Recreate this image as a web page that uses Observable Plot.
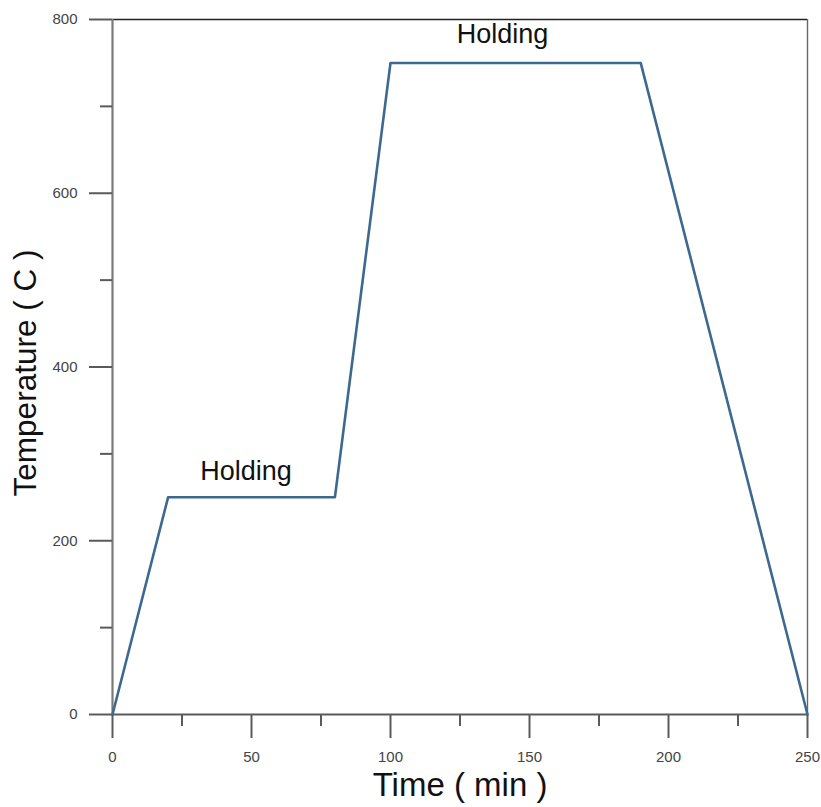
<!DOCTYPE html>
<html>
<head>
<meta charset="utf-8">
<script src="https://cdn.jsdelivr.net/npm/d3@7"></script>
<script src="https://cdn.jsdelivr.net/npm/@observablehq/plot@0.6"></script>
<style>
  html, body { margin: 0; padding: 0; background: #fff; }
  #chart svg { display: block; }
</style>
</head>
<body>
<div id="chart"></div>
<script>
// Data
const timeMin = [0, 20, 80, 100, 190, 250];
const tempC = [0, 250, 250, 750, 750, 0];

const xMajorTicks = [0, 50, 100, 150, 200, 250];
const xMinorTicks = [25, 75, 125, 175, 225];
const yMajorTicks = [0, 200, 400, 600, 800];
const yMinorTicks = [100, 300, 500, 700];

const labelText = ["Holding", "Holding"];
const labelX = [48, 140.3];
const labelY = [280, 783];

const xTitle = "Time ( min )";
const yTitle = "Temperature ( C )";

const profile = timeMin.map((t, i) => ({t, v: tempC[i]}));
const labels = labelText.map((s, i) => ({s, x: labelX[i], y: labelY[i]}));

const axisColor = "#5a5a5a";
const noLabel = () => "";

const chart = Plot.plot({
  width: 821,
  height: 807,
  marginLeft: 112,
  marginRight: 14,
  marginTop: 19,
  marginBottom: 93,
  style: {fontFamily: "'Liberation Sans', Arial, sans-serif", background: "#fff"},
  x: {domain: [0, 250], label: null},
  y: {domain: [0, 800], label: null},
  marks: [
    // frame lines
    Plot.ruleY([800], {stroke: "#222", strokeWidth: 1.4}),
    Plot.ruleX([250], {stroke: "#666", strokeWidth: 1.4}),
    Plot.ruleX([0], {stroke: "#7a7a7a", strokeWidth: 2.2}),
    Plot.ruleY([0], {stroke: axisColor, strokeWidth: 2}),
    // tick marks
    Plot.axisX(xMajorTicks, {tickSize: 24, tickFormat: noLabel, stroke: axisColor, strokeWidth: 2, label: null}),
    Plot.axisX(xMinorTicks, {tickSize: 12, tickFormat: noLabel, stroke: axisColor, strokeWidth: 2, label: null}),
    Plot.axisY(yMajorTicks, {tickSize: 23, tickFormat: noLabel, stroke: axisColor, strokeWidth: 2, label: null}),
    Plot.axisY(yMinorTicks, {tickSize: 12, tickFormat: noLabel, stroke: axisColor, strokeWidth: 2, label: null}),
    // tick labels
    Plot.text(xMajorTicks, {x: d => d, text: d => String(d), frameAnchor: "bottom", textAnchor: "middle", lineAnchor: "middle", dy: 43, fontSize: 15, fill: "#444"}),
    Plot.text(yMajorTicks, {y: d => d, text: d => String(d), frameAnchor: "left", textAnchor: "end", lineAnchor: "middle", dx: -35, fontSize: 15, fill: "#444"}),
    // temperature profile
    Plot.line(profile, {x: "t", y: "v", stroke: "#3d6890", strokeWidth: 2.6}),
    // annotations
    Plot.text(labels, {x: "x", y: "y", text: "s", fontSize: 27, fill: "#111"}),
    // axis titles
    Plot.text([xTitle], {frameAnchor: "bottom", textAnchor: "middle", dy: 81, fontSize: 33, fill: "#111"}),
    Plot.text([yTitle], {frameAnchor: "left", textAnchor: "middle", rotate: -90, dx: -87, dy: 6, fontSize: 31.5, fill: "#111"})
  ]
});

document.getElementById("chart").appendChild(chart);
</script>
</body>
</html>
